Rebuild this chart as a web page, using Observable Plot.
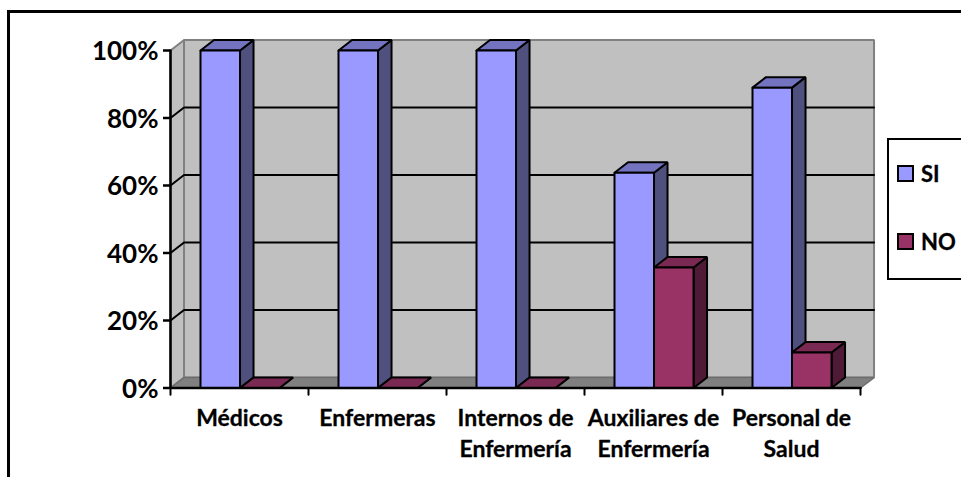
<!DOCTYPE html>
<html>
<head>
<meta charset="utf-8">
<script src="https://cdn.jsdelivr.net/npm/d3@7"></script>
<script src="https://cdn.jsdelivr.net/npm/@observablehq/plot@0.6"></script>
<style>
html,body{margin:0;padding:0;background:#fff;overflow:hidden}
#wrap{position:relative;width:961px;height:477px;overflow:hidden;font-family:Lato,sans-serif}
#frame{position:absolute;left:7px;top:10px;width:970px;height:490px;border:3px solid #000;box-sizing:border-box;pointer-events:none}
#legend{position:absolute;left:887px;top:138px;width:90px;height:142px;background:#fff;border:2px solid #000;box-sizing:border-box}
.sw{position:absolute;left:8px;width:17px;height:17px;border:2px solid #000;box-sizing:border-box}
.lb{position:absolute;left:32px;font-weight:700;font-size:22px;line-height:24px;color:#000;-webkit-text-stroke:0.3px #000}
svg{position:absolute;left:0;top:0}
</style>
</head>
<body>
<div id="wrap">
  <div id="chart"></div>
  <div id="frame"></div>
  <div id="legend"></div>
</div>
<script>
const categories = ["Médicos", "Enfermeras", "Internos de\nEnfermería", "Auxiliares de\nEnfermería", "Personal de\nSalud"];
const seriesNames = ["SI", "NO"];
const si = [100, 100, 100, 63.8, 89];
const no = [0, 0, 0, 35.7, 10.5];
const yTicks = [0, 20, 40, 60, 80, 100];
const frontColors = ["#9999ff", "#993366"];
const topColors = ["#7373c0", "#7a2952"];
const sideColors = ["#50507f", "#4f1a35"];

const gap = 0.2174, barW = 0.2863;   // in category units
const depX = 0.098, depY = 3.1;      // 3-D depth in data units

const poly = (pts, fill, stroke, sw) =>
  Plot.line([...pts, pts[0]], {x: d => d[0], y: d => d[1], fill, stroke, strokeWidth: sw, strokeLinejoin: "miter"});
const seg = (pts, stroke, sw) =>
  Plot.line(pts, {x: d => d[0], y: d => d[1], stroke, strokeWidth: sw});

const n = categories.length;
const marks = [];
// walls and floor
marks.push(poly([[0,0],[depX,depY],[depX,100+depY],[0,100]], "#c0c0c0", "#808080", 2));
marks.push(poly([[depX,depY],[n+depX,depY],[n+depX,100+depY],[depX,100+depY]], "#c0c0c0", "#808080", 2));
marks.push(poly([[0,0],[n,0],[n+depX,depY],[depX,depY]], "#808080", "#6e6e6e", 1.5));
// grid
for (const t of yTicks.filter(t => t > 0 && t < 100)) {
  marks.push(seg([[0,t],[depX,t+depY],[n+depX,t+depY]], "#000", 2));
}
// bars
categories.forEach((c, i) => {
  [si, no].forEach((vals, s) => {
    const v = vals[i];
    const x0 = i + gap + s * barW, x1 = x0 + barW;
    marks.push(poly([[x1,0],[x1+depX,depY],[x1+depX,v+depY],[x1,v]], sideColors[s], "#000", 2));
    marks.push(poly([[x0,v],[x1,v],[x1+depX,v+depY],[x0+depX,v+depY]], topColors[s], "#000", 2));
    marks.push(poly([[x0,0],[x1,0],[x1,v],[x0,v]], frontColors[s], "#000", 2));
  });
});
// axes
marks.push(seg([[0,0],[0,100]], "#000", 2.5));
marks.push(seg([[0,0],[n,0]], "#000", 2.5));
for (let k = 0; k <= n; k++) marks.push(seg([[k,0],[k,-2]], "#000", 2));
marks.push(Plot.axisY({ticks: yTicks, tickSize: 7, text: null, strokeWidth: 2.5, label: null}));
marks.push(Plot.axisY({
  ticks: yTicks, tickFormat: d => d + "%", tickSize: 0, tickPadding: 12, dy: 1.5,
  fontSize: 26, fontWeight: 700, fill: "#000", stroke: "#000", strokeWidth: 0.3, label: null
}));
marks.push(Plot.text(categories, {
  x: (d, i) => i + 0.5, y: 0, text: d => d, dy: 16, lineAnchor: "top",
  lineHeight: 1.35, fontSize: 23, fontWeight: 700, fill: "#000",
  stroke: "#000", strokeWidth: 0.3
}));

const chart = Plot.plot({
  width: 961, height: 477,
  marginLeft: 170, marginRight: 101, marginTop: 50, marginBottom: 89.5,
  style: {fontFamily: "Lato, sans-serif", background: "transparent", overflow: "visible"},
  x: {domain: [0, n], axis: null},
  y: {domain: [0, 100], axis: null},
  marks
});
document.getElementById("chart").appendChild(chart);

const lg = document.getElementById("legend");
seriesNames.forEach((name, i) => {
  const sw = document.createElement("div");
  sw.className = "sw"; sw.style.top = (25 + i * 68) + "px"; sw.style.background = frontColors[i];
  const lb = document.createElement("div");
  lb.className = "lb"; lb.style.top = (22 + i * 68) + "px"; lb.textContent = name;
  lg.append(sw, lb);
});
</script>
</body>
</html>
